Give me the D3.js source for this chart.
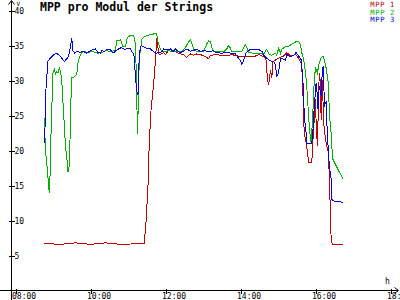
<!DOCTYPE html>
<html><head><meta charset="utf-8">
<script src="https://cdn.jsdelivr.net/npm/d3@7"></script>
<style>
html,body{margin:0;padding:0;background:#fff;}
svg{display:block;font-family:"DejaVu Sans Mono",monospace;}
</style></head><body>
<svg id="c" width="400" height="300"></svg>
<script>
const title = "MPP pro Modul der Strings";
const seriesNames = ["MPP 1", "MPP 2", "MPP 3"];
const seriesColors = ["#c00000", "#00b000", "#0000e0"];
const yTicks = [5, 10, 15, 20, 25, 30, 35, 40];
const xTickLabels = ["08:00", "10:00", "12:00", "14:00", "16:00", "18:00"];
const yUnit = "V";
const xUnit = "h";

// times: minutes since midnight
const mpp1Time = [526,552,576,600,624,648,686,689,692,694,697,701,704,706,709,710,714,717,720,725,730,738,744,749,754,760,765,770,776,786,789,792,802,816,826,840,850,864,869,878,881,883,885,888,890,892,897,904,909,914,920,928,933,937,939,941,942,946,949,954,956,958,960,961,963,966,968,969,971,973,976,978,981,982,984,985,987,1004];
const mpp1Value = [6.7,6.6,6.8,6.6,6.8,6.6,6.7,10,15,21,26,29.5,33,36,34,33.7,33.8,34,33.7,34.3,34.4,34,33.8,33.7,33.3,33.8,33.6,33.8,33.7,33.3,33.1,33.6,33.7,33.5,33.7,33.4,33.5,33.5,33.7,33.4,32.9,30.4,29.3,31.5,30.3,32.7,33,33.3,33.5,34,33.5,33.7,33.2,32.5,30.6,24.9,22.5,20.6,18.3,18.3,21.6,24.4,27.3,24,20.6,31.1,29.7,24.4,30.1,24,21.6,20.6,19.7,15.9,11.1,7.3,6.6,6.6];

const mpp2Time = [526,528,531,533,534,535,537,539,540,542,544,546,548,550,552,554,555,557,559,561,563,564,566,567,568,570,574,578,580,583,586,591,596,602,607,612,616,621,626,632,640,642,648,650,652,656,659,664,669,672,673,674,675,677,678,681,682,685,693,704,706,707,709,712,714,720,725,730,736,741,746,752,756,760,762,765,770,776,781,786,789,792,794,797,813,818,821,824,826,842,845,848,850,853,861,869,874,877,880,882,885,890,896,898,901,904,906,912,917,922,928,933,936,938,941,944,946,948,950,952,953,955,957,958,960,961,963,966,969,972,974,977,979,981,982,985,986,988,992,996,1000,1004];
const mpp2Value = [24.7,20,17.3,14.9,14,15.5,23,28.5,31.1,31.6,30.9,31.3,31.1,31.8,31.3,30.1,28.2,25.4,22,19.7,18.2,17,17.8,20.6,25.4,30.4,30.5,30.9,32.5,33.5,34,34.2,33.9,34.2,34,33.9,34,34.1,34.3,34.1,34.3,35.7,35.8,35.3,34.8,34.9,36.1,36.5,36.5,35.2,31.9,28,22.3,28,33.3,35,35.9,36.2,36.5,36.7,36.7,35.9,35.2,34.5,34.1,34.1,34.3,34.1,34.2,34.2,34.1,34.7,35.4,35.8,35.3,34.5,34.1,34.1,34.2,35.2,35.7,35.5,34.7,34.1,34.1,34.5,35,34.6,34.1,34.1,34.7,35.1,34.7,34,33.9,33.8,33.9,33.6,34.3,34.5,33.8,33.6,33.9,33.6,34.6,33.9,34.5,34.8,34.9,35.2,35.5,35.6,35.1,34,33,31.1,29.2,26.3,23.5,21.6,21.1,24,27.8,30.1,31.8,31.6,31.1,32.5,33.2,33.5,33,31.8,30.6,29.2,25.4,22.5,20.6,18.7,18,17.3,16.6,15.9];

const mpp3Time = [526,527,528,530,532,535,540,546,551,555,558,562,565,569,570,571,572,575,579,583,588,594,599,604,608,612,616,618,622,626,632,636,640,645,649,653,656,658,664,666,669,670,672,674,676,677,678,681,685,690,696,701,706,710,714,717,722,728,732,736,741,744,749,754,760,765,770,776,781,786,792,797,800,810,816,826,832,834,837,840,842,845,848,853,858,866,872,875,878,882,888,893,896,898,901,904,906,912,914,920,925,929,933,937,939,941,942,945,946,954,956,958,961,962,964,966,969,971,973,974,977,979,981,982,985,986,989,1004];
const mpp3Value = [21.1,22,27.8,30.4,32.8,33.1,33.6,33.9,33.5,33.1,32.7,33.1,33.5,35.4,36,35.1,34.2,33.9,34.2,34,34.2,33.9,34.2,34.4,34.5,34,33.9,34.3,34.1,34.5,34.4,33.9,34.2,34.5,34.7,34.5,34.4,34.6,34.5,34.1,33.8,33.3,30.4,28.5,28,30.4,33.8,35,34.8,34.6,34.5,34.1,33.9,34,34.1,34.5,34.4,34.5,34.1,34.5,34.1,34,34.2,34.5,34.2,34.3,34.5,34.1,34.3,34.2,34.1,34.3,34,33.9,34,33.9,33.8,33.5,33.2,32.8,32.3,32.8,33.8,34.3,34.5,34.5,34.3,34.1,33.5,33.2,32.8,32.7,32.2,30.5,31.2,33.2,33.2,32.9,33.7,33.4,33.6,34,33.5,33,31.1,28.2,24.9,22.5,21,21,23,26.3,29.7,29,25.9,29.2,27.8,31.6,32.1,26.3,27,22,19.7,17.8,15.9,13,12.8,12.6];

const svg = d3.select("#c");
const x = d3.scaleLinear().domain([480, 1080]).range([15.5, 390.5]);
const y = d3.scaleLinear().domain([0, 40]).range([290.5, 10.5]);
const xTickVals = xTickLabels.map(s => { const [h, m] = s.split(":").map(Number); return h * 60 + m; });

// axes lines with arrows
const axisColor = "#000";
svg.append("line").attr("x1", 11.5).attr("x2", 11.5).attr("y1", 0.5).attr("y2", 300).attr("stroke", axisColor).attr("shape-rendering","crispEdges");
svg.append("line").attr("x1", 0).attr("x2", 398).attr("y1", y(0)).attr("y2", y(0)).attr("stroke", axisColor).attr("shape-rendering","crispEdges");
svg.append("path").attr("d", "M8.5,4.5L11.5,0.5L14.5,4.5").attr("fill", "none").attr("stroke", axisColor);
svg.append("path").attr("d", `M394.5,${y(0)-3}L398.5,${y(0)}L394.5,${y(0)+3}`).attr("fill", "none").attr("stroke", axisColor);

// y axis
const gy = svg.append("g").attr("transform", "translate(11.5,0)")
  .call(d3.axisRight(y).tickValues(yTicks).tickFormat(d3.format("d")).tickSize(3));
gy.select(".domain").remove();
gy.selectAll(".tick line").attr("x1", -3).attr("x2", 3).attr("shape-rendering","crispEdges");
gy.selectAll(".tick text").attr("x", 3).attr("dy", "0.34em").attr("font-size", 8).attr("font-family", "DejaVu Sans Mono");

// x axis
const gx = svg.append("g").attr("transform", `translate(0,${y(0)})`)
  .call(d3.axisBottom(x).tickValues(xTickVals).tickFormat((d, i) => xTickLabels[i]).tickSize(3));
gx.select(".domain").remove();
gx.selectAll(".tick line").attr("y1", -2).attr("y2", 3).attr("shape-rendering","crispEdges");
gx.selectAll(".tick text").attr("y", 8.5).attr("dy", 0).attr("text-anchor", "start").attr("x", -4)
  .attr("font-size", 8).attr("font-family", "DejaVu Sans Mono");

// unit labels
svg.append("text").attr("x", 16.5).attr("y", 5.5).attr("font-size", 6).text(yUnit);
svg.append("text").attr("x", 385).attr("y", 284).attr("font-size", 8).text(xUnit);

// title
svg.append("text").attr("x", 40).attr("y", 11).attr("font-size", 11.5).attr("font-weight", "bold").text(title);

// series
const seriesData = [
  d3.zip(mpp1Time, mpp1Value),
  d3.zip(mpp2Time, mpp2Value),
  d3.zip(mpp3Time, mpp3Value)
];
const line = d3.line().x(d => x(d[0])).y(d => y(d[1]));
seriesData.forEach((data, i) => {
  svg.append("path").datum(data).attr("d", line)
    .attr("fill", "none").attr("stroke", seriesColors[i]).attr("stroke-width", 1)
    .attr("shape-rendering", "crispEdges");
});

// legend
seriesNames.forEach((name, i) => {
  svg.append("text").attr("x", 395).attr("y", 7 + i * 7.5).attr("text-anchor", "end")
    .attr("font-size", 7.2).attr("letter-spacing", 0.6).attr("fill", seriesColors[i]).text(name);
});
</script>
</body></html>
